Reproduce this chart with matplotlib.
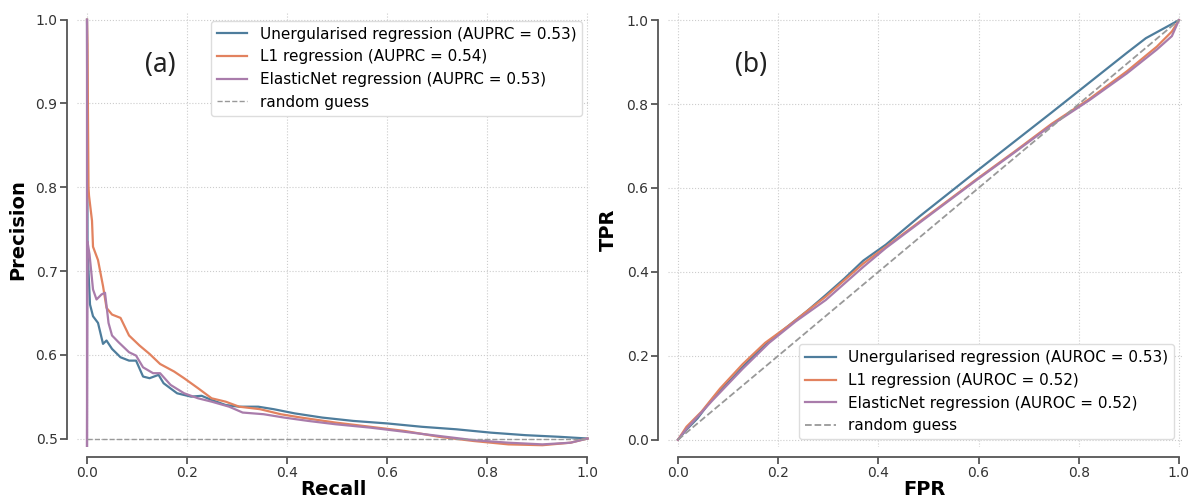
import matplotlib
matplotlib.use("Agg")
import matplotlib.pyplot as plt

# precision-recall curves
recall_unreg = [0.0, 0.001, 0.003, 0.006, 0.012, 0.022, 0.032, 0.039, 0.05, 0.067, 0.084, 0.098,
                0.112, 0.125, 0.143, 0.153, 0.18, 0.208, 0.229, 0.249, 0.277, 0.304, 0.342, 0.373,
                0.415, 0.47, 0.532, 0.60, 0.669, 0.738, 0.807, 0.876, 0.945, 1.0]
prec_unreg = [1.0, 0.735, 0.70, 0.66, 0.646, 0.638, 0.613, 0.617, 0.607, 0.597, 0.593, 0.593,
              0.574, 0.572, 0.576, 0.566, 0.554, 0.55, 0.551, 0.546, 0.540, 0.538, 0.538, 0.535,
              0.530, 0.525, 0.521, 0.518, 0.514, 0.511, 0.507, 0.504, 0.502, 0.5]

recall_l1 = [0.0, 0.001, 0.002, 0.003, 0.004, 0.007, 0.01, 0.012, 0.022, 0.032, 0.039, 0.05, 0.067,
             0.084, 0.105, 0.125, 0.146, 0.174, 0.194, 0.222, 0.249, 0.277, 0.304, 0.346, 0.387,
             0.428, 0.497, 0.566, 0.635, 0.704, 0.773, 0.842, 0.91, 0.966, 1.0]
prec_l1 = [1.0, 0.97, 0.88, 0.80, 0.79, 0.775, 0.76, 0.729, 0.713, 0.682, 0.656, 0.648, 0.644,
           0.623, 0.611, 0.601, 0.589, 0.58, 0.572, 0.56, 0.548, 0.544, 0.538, 0.535, 0.529,
           0.525, 0.519, 0.514, 0.509, 0.502, 0.497, 0.493, 0.492, 0.495, 0.5]

recall_enet = [0.0, 0.0, 0.001, 0.005, 0.012, 0.019, 0.029, 0.036, 0.043, 0.05, 0.063, 0.084, 0.098,
               0.112, 0.132, 0.146, 0.167, 0.194, 0.222, 0.249, 0.284, 0.311, 0.353, 0.394, 0.442,
               0.497, 0.566, 0.635, 0.704, 0.773, 0.842, 0.91, 0.966, 1.0]
prec_enet = [1.0, 0.489, 0.735, 0.72, 0.678, 0.666, 0.672, 0.674, 0.638, 0.623, 0.615, 0.603, 0.599,
             0.585, 0.578, 0.578, 0.564, 0.554, 0.548, 0.544, 0.538, 0.531, 0.529, 0.525, 0.521,
             0.517, 0.513, 0.508, 0.503, 0.498, 0.495, 0.493, 0.495, 0.5]

# ROC curves
fpr_unreg = [0.0, 0.017, 0.039, 0.069, 0.107, 0.144, 0.182, 0.22, 0.257, 0.295, 0.332, 0.37, 0.415,
             0.483, 0.595, 0.671, 0.746, 0.821, 0.896, 0.934, 1.0]
tpr_unreg = [0.0, 0.024, 0.051, 0.098, 0.145, 0.192, 0.235, 0.271, 0.306, 0.345, 0.384, 0.427, 0.465,
             0.533, 0.639, 0.71, 0.78, 0.851, 0.922, 0.957, 1.0]

fpr_l1 = [0.0, 0.017, 0.047, 0.084, 0.129, 0.174, 0.22, 0.257, 0.295, 0.332, 0.37, 0.415, 0.52,
          0.595, 0.671, 0.746, 0.821, 0.896, 0.956, 0.986, 1.0]
tpr_l1 = [0.0, 0.031, 0.067, 0.122, 0.18, 0.231, 0.271, 0.306, 0.341, 0.38, 0.42, 0.46, 0.553,
          0.62, 0.686, 0.753, 0.812, 0.878, 0.937, 0.973, 1.0]

fpr_enet = [0.0, 0.017, 0.069, 0.129, 0.182, 0.235, 0.295, 0.37, 0.415, 0.52, 0.595, 0.671, 0.746,
            0.821, 0.896, 0.956, 0.986, 1.0]
tpr_enet = [0.0, 0.026, 0.094, 0.169, 0.231, 0.282, 0.333, 0.412, 0.457, 0.551, 0.618, 0.684, 0.75,
            0.809, 0.873, 0.930, 0.962, 1.0]

names = ["Unergularised regression", "L1 regression", "ElasticNet regression"]
auprc = [0.53, 0.54, 0.53]
auroc = [0.53, 0.52, 0.52]
colors = ["#4e7d9c", "#e2825f", "#a97cab"]

plt.rcParams["font.family"] = "DejaVu Sans"

fig = plt.figure(figsize=(11.9, 5.01), dpi=100)
ax1 = fig.add_axes([0.0647, 0.108, 0.4311, 0.866])
ax2 = fig.add_axes([0.5613, 0.108, 0.4319, 0.866])


def style(ax, ybounds):
    ax.grid(True, linestyle=":", color="#cccccc", linewidth=0.8)
    ax.set_axisbelow(True)
    for s in ["top", "right"]:
        ax.spines[s].set_visible(False)
    for s in ["left", "bottom"]:
        ax.spines[s].set_position(("outward", 7))
        ax.spines[s].set_color("#555555")
        ax.spines[s].set_linewidth(1.3)
    ax.spines["bottom"].set_bounds(0, 1)
    ax.spines["left"].set_bounds(*ybounds)
    ax.tick_params(direction="out", length=5, width=1.3, color="#555555", pad=2,
                   labelsize=10, labelcolor="#333333")


xs = [recall_unreg, recall_l1, recall_enet]
ys = [prec_unreg, prec_l1, prec_enet]
for x, y, n, a, c in zip(xs, ys, names, auprc, colors):
    ax1.plot(x, y, color=c, lw=1.6, label=f"{n} (AUPRC = {a})")
ax1.plot([0, 1], [0.5, 0.5], "--", color="#999999", lw=1.0, label="random guess")
ax1.set_xlim(-0.02, 1.005)
ax1.set_ylim(0.49, 1.008)
ax1.set_xticks([0, 0.2, 0.4, 0.6, 0.8, 1.0])
ax1.set_yticks([0.5, 0.6, 0.7, 0.8, 0.9, 1.0])
style(ax1, (0.5, 1.0))
ax1.set_xlabel("Recall", fontsize=14, fontweight="bold", labelpad=0)
ax1.set_ylabel("Precision", fontsize=14, fontweight="bold", labelpad=6)
ax1.legend(loc="upper right", fontsize=11, framealpha=1, edgecolor="#dddddd")
ax1.text(0.162, 0.88, "(a)", transform=ax1.transAxes, fontsize=19,
         family="Noto Sans", ha="center", va="center", color="#222222")

xs = [fpr_unreg, fpr_l1, fpr_enet]
ys = [tpr_unreg, tpr_l1, tpr_enet]
for x, y, n, a, c in zip(xs, ys, names, auroc, colors):
    ax2.plot(x, y, color=c, lw=1.6, label=f"{n} (AUROC = {a})")
ax2.plot([0, 1], [0, 1], "--", color="#999999", lw=1.3, label="random guess")
ax2.set_xlim(-0.02, 1.006)
ax2.set_ylim(-0.017, 1.017)
ax2.set_xticks([0, 0.2, 0.4, 0.6, 0.8, 1.0])
ax2.set_yticks([0, 0.2, 0.4, 0.6, 0.8, 1.0])
style(ax2, (0.0, 1.0))
ax2.set_xlabel("FPR", fontsize=14, fontweight="bold", labelpad=0)
ax2.set_ylabel("TPR", fontsize=14, fontweight="bold", labelpad=6)
ax2.legend(loc="lower right", fontsize=11, framealpha=1, edgecolor="#dddddd")
ax2.text(0.162, 0.88, "(b)", transform=ax2.transAxes, fontsize=19,
         family="Noto Sans", ha="center", va="center", color="#222222")

fig.savefig("out.png", dpi=100)
